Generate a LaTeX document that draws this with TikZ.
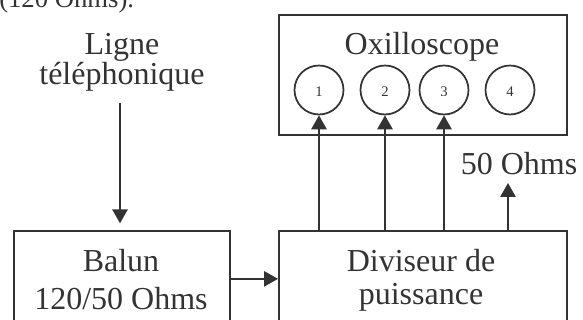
\documentclass[tikz,border=0pt]{standalone}
\usepackage{fontspec}
\setmainfont{Liberation Serif}
\usetikzlibrary{arrows.meta}
\definecolor{ink}{RGB}{51,51,51}
\tikzset{
  box/.style={draw=ink, line width=1.3pt, rectangle, inner sep=0pt, anchor=north west},
  port/.style={draw=ink, line width=1.3pt, circle, inner sep=0pt, minimum size=36.75pt},
  txt/.style={text=ink, inner sep=0pt, anchor=base, font=\fontsize{24}{28}\selectfont},
  digit/.style={text=ink, inner sep=0pt, anchor=base, font=\fontsize{11}{13}\selectfont},
  arr/.style={draw=ink, line width=1.3pt, -{Triangle[length=10.5pt, width=11.5pt]}},
}
\begin{document}
\begin{tikzpicture}[x=0.75pt, y=-0.75pt]
\useasboundingbox (0,0) rectangle (583,320);
\clip (0,0) rectangle (583,320);
% clipped text at the top
\node[txt, anchor=base west, font=\fontsize{20}{24}\selectfont] (top) at (-1,8) {(120 Ohms).};
% boxes
\node[box, minimum width=216pt, minimum height=90pt] (osc) at (278,14) {};
\node[box, minimum width=162pt, minimum height=72pt] (balun) at (13,230) {};
\node[box, minimum width=216pt, minimum height=72pt] (div) at (278,230) {};
% texts
\node[txt] (oscT) at (422,55) {Oxilloscope};
\node[txt] (lig1) at (122,55) {Ligne};
\node[txt] (lig2) at (122,85) {téléphonique};
\node[txt] (bal1) at (121,272) {Balun};
\node[txt] (bal2) at (121,310) {120/50 Ohms};
\node[txt] (div1) at (421,272) {Diviseur de};
\node[txt] (div2) at (421,305) {puissance};
\node[txt] (ohm) at (519,175) {50 Ohms};
% ports
\node[port] (c1) at (319,90) {};
\node[port] (c2) at (385,90) {};
\node[port] (c3) at (444,90) {};
\node[port] (c4) at (510,90) {};
\begin{scope}
\clip (290,60) rectangle (540,95.5);
\node[digit] (d1) at (c1 |- 0,97) {1};
\node[digit] (d2) at (c2 |- 0,97) {2};
\node[digit] (d3) at (c3 |- 0,97) {3};
\node[digit] (d4) at (c4 |- 0,97) {4};
\end{scope}
% connectors
\coordinate (ligEnd) at (120,103);
\draw[arr, shorten >=5pt] (ligEnd) -- (ligEnd |- balun.north);
\draw[arr] (balun.east) -- (div.west);
\draw[arr] (div.north -| c1) -- (c1.south);
\draw[arr] (div.north -| c2) -- (c2.south);
\draw[arr] (div.north -| c3) -- (c3.south);
\coordinate (ohmTip) at (508,183);
\draw[arr] (div.north -| ohmTip) -- (ohmTip);
\end{tikzpicture}
\end{document}
